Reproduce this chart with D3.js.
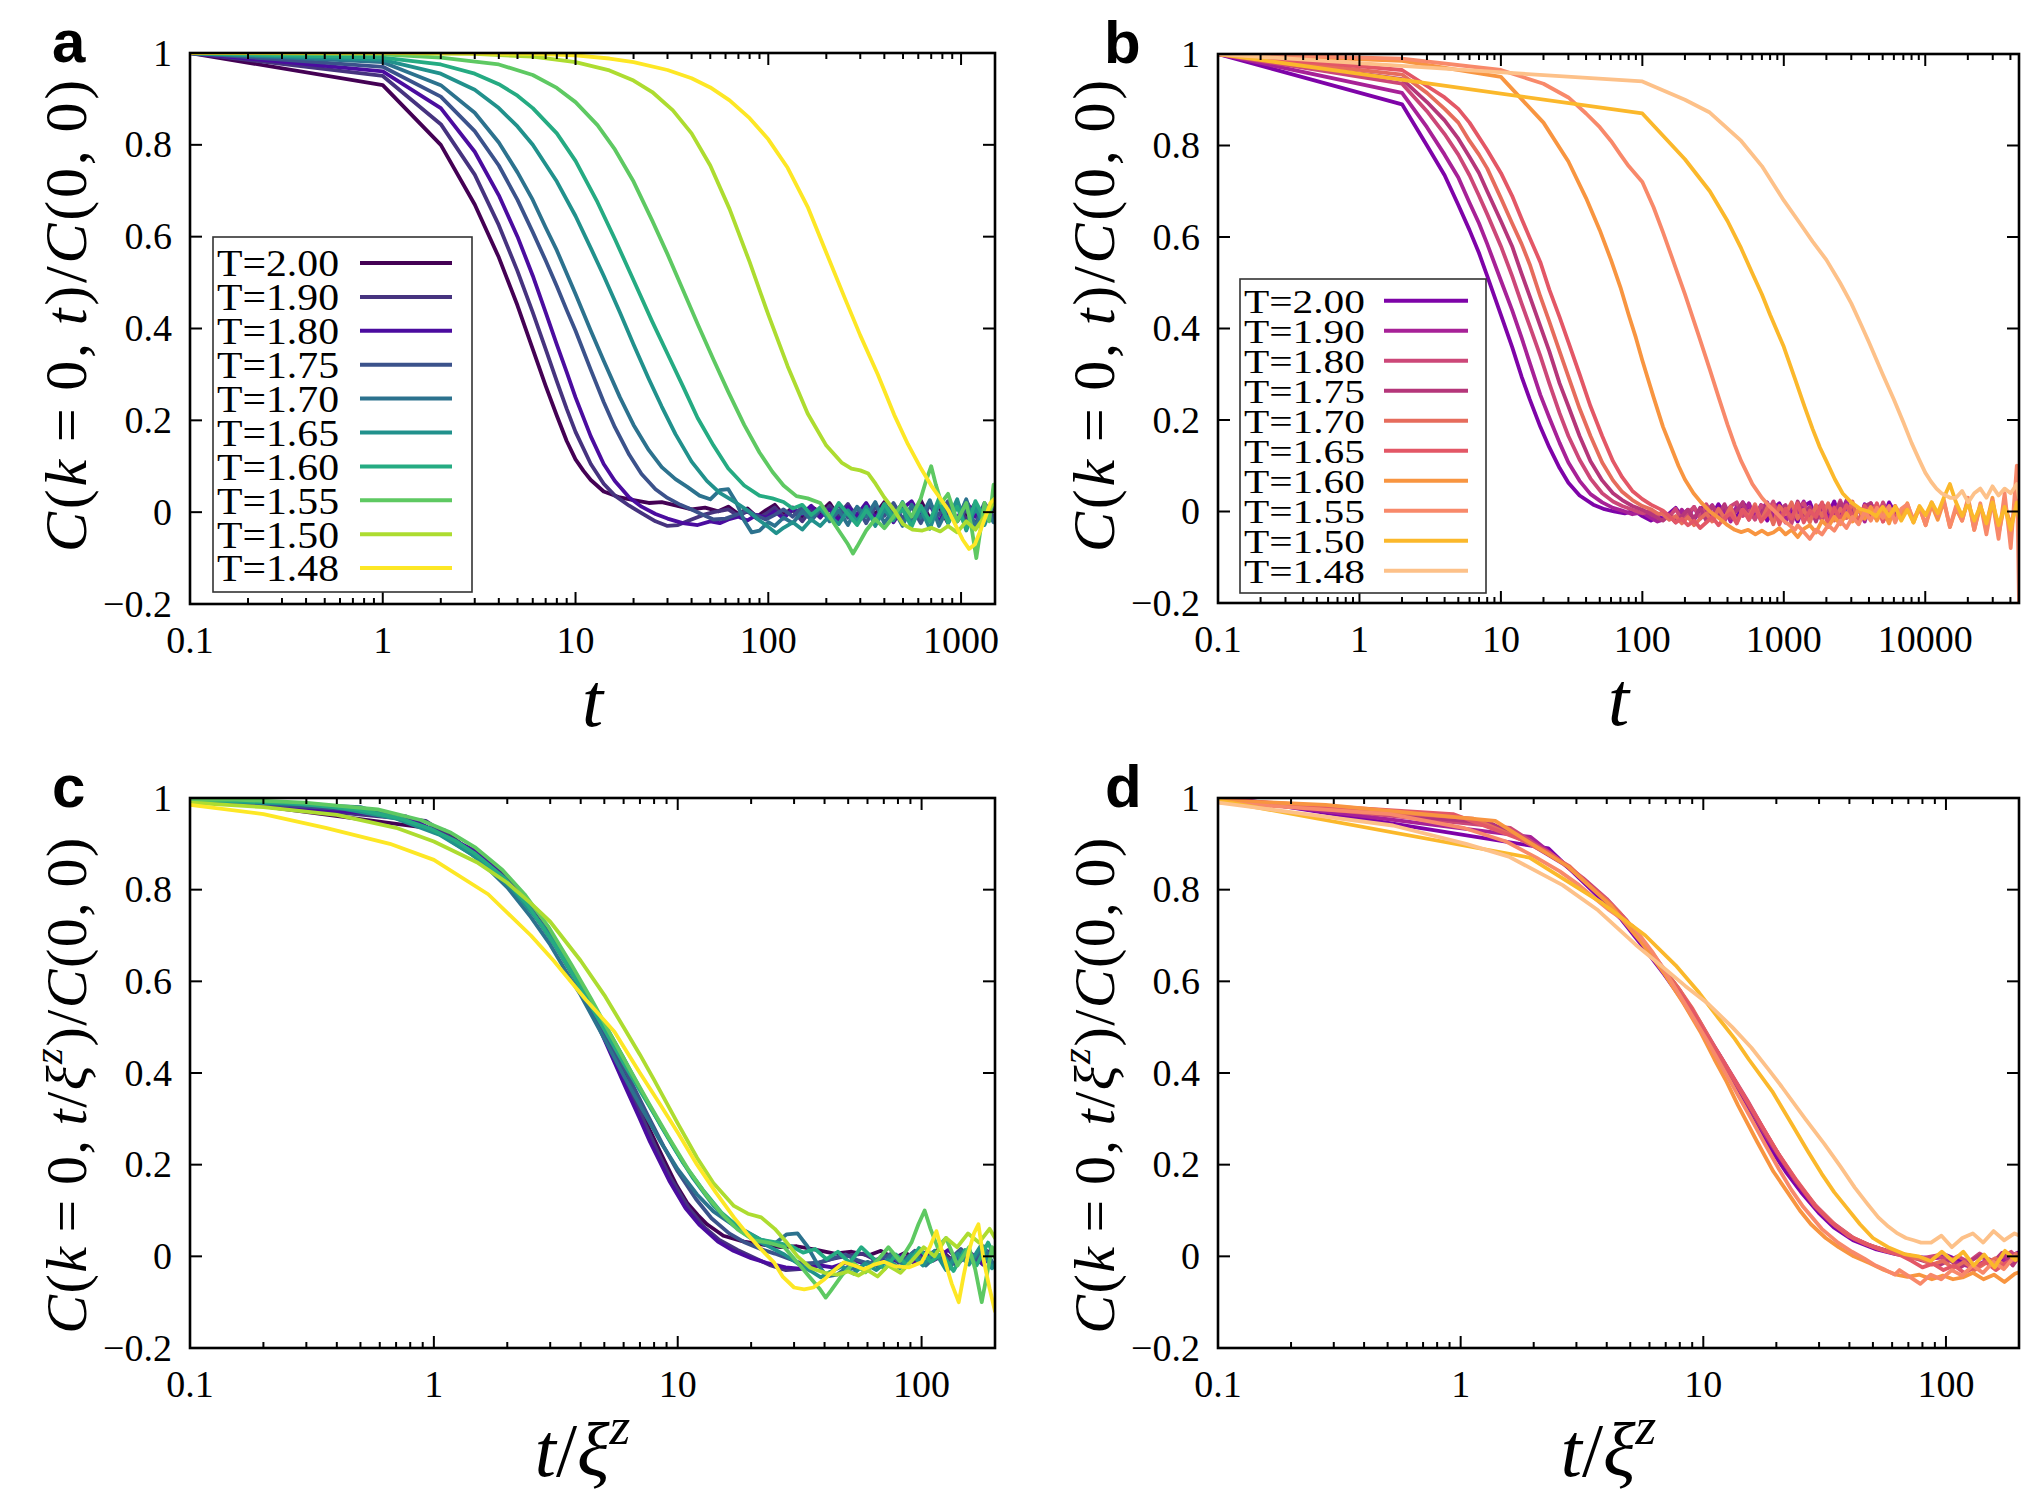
<!DOCTYPE html>
<html><head><meta charset="utf-8">
<script src="https://cdn.jsdelivr.net/npm/d3@7/dist/d3.min.js"></script>
<style>
html,body{margin:0;padding:0;background:#fff;}
</style></head><body>
<svg id="chart" width="2043" height="1507" xmlns="http://www.w3.org/2000/svg"></svg>
<script>
// ---------------- DATA ----------------
const temps = ["2.00","1.90","1.80","1.75","1.70","1.65","1.60","1.55","1.50","1.48"];
const colorsA = ["#440154","#46337f","#4b0c9f","#3b528b","#2c728e","#21918c","#25ab82","#5ec962","#addc30","#fde725"];
const colorsB = ["#7e03a8","#a72197","#cc4778","#b5367a","#e66c5c","#e35766","#f89540","#f8896a","#fbb82b","#fdc189"];
const yTickValues = [-0.2,0,0.2,0.4,0.6,0.8,1];
const yTickLabels = ["\u22120.2","0","0.2","0.4","0.6","0.8","1"];
const xTicksA = [0.1,1,10,100,1000];
const xTickLabelsA = ["0.1","1","10","100","1000"];
const xTicksB = [0.1,1,10,100,1000,10000];
const xTickLabelsB = ["0.1","1","10","100","1000","10000"];
const xTicksCD = [0.1,1,10,100];
const xTickLabelsCD = ["0.1","1","10","100"];
// scale factors xi^z per temperature (panel c from a, panel d from b)
const xiA = [0.91,1.08,1.3,1.6,2.0,2.85,4.1,6.8,14.5,32];
const xiB = [0.87,1.03,1.25,1.5,1.77,2.15,7.2,19.5,52,190];
// value at the left edge (x = 0.1) of the rescaled panels
const startC = [1.0,1.0,0.999,0.998,0.997,0.996,0.996,0.995,0.99,0.985];
const startD = [1.0,1.0,0.999,0.998,0.998,0.997,0.995,0.995,0.995,0.99];

// panel a : C(k=0,t)/C(0,0) vs t
const tGridA = [55,62,70,78,87,97,108,120,134,150,167,186,208,232,259,289,322,359,400,446,497,554,618,689,768,856,955,1064,1187,1323,1475,1644];
const mainA = [
 [[0.1,1.0],[1,0.93],[2,0.80],[3,0.67],[4,0.555],[5,0.45],[6,0.355],[7,0.275],[8,0.21],[9,0.155],[10,0.115],[11,0.09],[12,0.07],[14,0.045],[17,0.032],[20,0.026],[24,0.02],[28,0.022],[33,0.015],[40,0.006],[47,0.01]],
 [[0.1,1.0],[1,0.95],[2,0.845],[3,0.735],[4,0.625],[5,0.525],[6,0.435],[7,0.355],[8,0.285],[9,0.225],[10,0.175],[12,0.105],[14,0.062],[16,0.036],[19,0.014],[22,-0.002],[26,-0.02],[30,-0.03],[34,-0.028],[40,-0.016],[46,-0.006],[52,0.0]],
 [[0.1,1.0],[1,0.96],[2,0.88],[3,0.785],[4,0.69],[5,0.6],[6,0.515],[7,0.435],[8,0.365],[9,0.305],[10,0.25],[12,0.165],[14,0.105],[16,0.068],[19,0.032],[22,0.012],[26,-0.004],[30,-0.014],[36,-0.024],[43,-0.028],[50,-0.02],[56,-0.024]],
 [[0.1,1.0],[1,0.97],[2,0.905],[3,0.83],[4,0.755],[5,0.68],[6,0.61],[7,0.548],[8,0.492],[9,0.44],[10,0.395],[12,0.31],[14,0.24],[16,0.185],[19,0.125],[22,0.083],[26,0.05],[30,0.031],[35,0.016],[40,0.006],[46,-0.006],[52,-0.016],[60,-0.014]],
 [[0.1,1.0],[1,0.98],[2,0.93],[3,0.87],[4,0.805],[5,0.74],[6,0.68],[7,0.62],[8,0.57],[10,0.475],[12,0.395],[14,0.33],[17,0.25],[20,0.19],[24,0.135],[28,0.098],[33,0.072],[38,0.055],[44,0.036],[50,0.028],[56,0.048],[62,0.05],[68,0.022],[75,-0.018],[82,-0.044],[90,-0.04],[100,-0.022]],
 [[0.1,1.0],[1,0.985],[2,0.955],[3,0.92],[4,0.88],[5,0.84],[6,0.8],[8,0.72],[10,0.645],[12,0.575],[14,0.515],[17,0.435],[20,0.365],[24,0.29],[28,0.23],[33,0.17],[40,0.11],[48,0.068],[56,0.042],[66,0.024],[78,0.004],[90,-0.018],[100,-0.032],[110,-0.046],[120,-0.034],[134,-0.022]],
 [[0.1,1.0],[1,0.99],[2,0.975],[3,0.955],[4,0.932],[5,0.907],[6,0.88],[8,0.825],[10,0.765],[13,0.675],[16,0.595],[20,0.505],[25,0.415],[30,0.345],[36,0.275],[43,0.205],[52,0.145],[62,0.095],[75,0.058],[90,0.036],[105,0.03],[120,0.022],[134,0.008]],
 [[0.1,1.0],[1,0.997],[2,0.99],[4,0.975],[6,0.952],[8,0.924],[10,0.893],[13,0.843],[16,0.79],[20,0.72],[25,0.635],[30,0.562],[36,0.485],[43,0.41],[52,0.332],[62,0.262],[75,0.19],[90,0.13],[105,0.088],[120,0.058],[140,0.035],[160,0.03],[186,0.02],[208,-0.01],[232,-0.04],[259,-0.07],[275,-0.09],[289,-0.075],[322,-0.04],[359,-0.015],[400,-0.035],[446,-0.01],[497,0.02],[554,-0.01],[618,0.03],[660,0.07],[700,0.1],[740,0.06],[790,0.02],[856,0.04],[955,-0.02],[1064,0.02],[1130,-0.03],[1200,-0.1],[1260,-0.04],[1323,0.02],[1400,-0.02],[1475,0.06],[1644,0.01]],
 [[0.1,1.0],[1,1.0],[3,0.998],[6,0.992],[10,0.98],[15,0.962],[20,0.94],[25,0.915],[32,0.875],[40,0.825],[50,0.755],[63,0.66],[80,0.545],[100,0.43],[126,0.318],[160,0.215],[200,0.145],[240,0.108],[270,0.095],[300,0.091],[330,0.084],[360,0.062],[400,0.032],[450,0.004],[500,-0.026],[560,-0.038],[630,-0.04],[700,-0.034],[780,-0.042],[856,-0.03],[955,-0.044],[1064,-0.02],[1187,-0.038],[1323,-0.01],[1475,0.02],[1644,0.0]],
 [[0.1,1.0],[1,1.0],[3,0.999],[6,0.998],[10,0.995],[15,0.988],[20,0.98],[30,0.963],[40,0.945],[50,0.925],[63,0.897],[80,0.858],[100,0.812],[126,0.75],[160,0.665],[200,0.565],[250,0.465],[300,0.385],[370,0.3],[450,0.212],[530,0.148],[620,0.095],[700,0.058],[780,0.03],[860,0.004],[940,-0.03],[1020,-0.06],[1100,-0.08],[1180,-0.07],[1260,-0.04],[1340,-0.01],[1420,0.02],[1500,0.03],[1640,0.0]]
];
const tailA = [
 [0,[0.002,0.012,-0.004,0.008,-0.01,0.004,0.016,-0.006,0.01,-0.014,0.012,0.0,0.02,-0.01,0.012,-0.018,0.014,-0.004,0.022,-0.016,0.01,-0.012,0.026,-0.014,0.012,-0.024,0.016,-0.01,0.02,-0.02,0.01,0.0]],
 [1,[0.006,-0.008,0.002,-0.014,-0.004,0.01,-0.01,0.004,-0.02,0.006,-0.012,0.014,-0.006,0.018,-0.014,0.008,-0.02,0.01,-0.008,0.02,-0.018,0.012,-0.02,0.018,-0.006,0.022,-0.018,0.012,-0.024,0.016,-0.006]],
 [1,[-0.016,-0.01,-0.018,-0.006,-0.012,0.002,-0.014,0.008,-0.004,0.014,-0.01,0.006,-0.018,0.012,-0.006,0.02,-0.012,0.016,-0.022,0.008,0.024,-0.01,0.016,-0.02,0.01,-0.014,0.024,-0.01,0.014,-0.016,0.008]],
 [2,[-0.004,0.004,-0.008,-0.016,-0.006,0.006,-0.01,0.012,-0.018,0.004,-0.008,0.016,-0.012,0.01,-0.024,0.012,-0.008,0.02,-0.014,0.012,-0.024,0.018,-0.006,0.024,-0.02,0.006,-0.026,0.02,-0.01,0.01]],
 [6,[-0.03,-0.012,-0.024,0.002,-0.016,0.01,-0.02,0.004,-0.028,0.012,-0.01,0.022,-0.024,0.006,-0.03,0.016,-0.012,0.026,-0.03,0.01,-0.02,0.028,-0.034,0.012,-0.022,0.006]],
 [9,[-0.038,-0.016,-0.03,-0.008,-0.026,0.004,-0.02,0.012,-0.03,0.006,-0.018,0.022,-0.026,0.008,-0.036,0.018,-0.016,0.028,-0.04,0.01,-0.028,0.02,-0.012]],
 [9,[0.016,-0.006,0.01,-0.014,0.02,-0.004,-0.028,0.004,-0.02,0.018,-0.012,0.006,-0.032,0.014,-0.02,0.03,-0.024,0.012,-0.036,0.024,-0.014,0.03,-0.02]],
 null, null, null
];
// panel c curves that do not follow a pure rescaling of panel a (T=1.50, T=1.48)
const cT150 = [[0.1,0.99],[0.2,0.98],[0.4,0.963],[0.7,0.935],[1,0.905],[1.5,0.86],[2,0.815],[2.5,0.77],[3,0.73],[4,0.645],[5,0.57],[6,0.5],[7,0.44],[8,0.385],[10,0.29],[12,0.215],[14,0.16],[17,0.11],[19.4,0.093],[22,0.085],[25,0.06],[28,0.03],[31,0.0],[35,-0.025],[40,-0.036],[45,-0.04],[50,-0.033],[55,-0.042],[60,-0.03],[66,-0.044],[73,-0.02],[82,-0.036],[91,-0.01],[102,0.02],[113,0.0],[126,0.04],[140,0.02],[155,0.05],[172,0.03],[190,0.06],[200,0.04]];
const cT148 = [[0.1,0.985],[0.2,0.965],[0.36,0.935],[0.66,0.9],[1,0.865],[1.67,0.79],[2.5,0.7],[3.1,0.645],[4.2,0.56],[5.5,0.49],[7,0.4],[8.5,0.33],[10,0.27],[12,0.2],[14.3,0.14],[17,0.085],[19.2,0.05],[22,0.015],[24.8,-0.013],[27,-0.045],[30,-0.068],[33,-0.072],[36,-0.068],[40,-0.05],[43,-0.034],[48,-0.013],[53,-0.02],[58,-0.028],[64,-0.018],[70,-0.012],[78,-0.022],[89,-0.024],[100,-0.013],[108,0.02],[115,0.055],[120,0.02],[125,-0.013],[133,-0.06],[142,-0.1],[149,-0.04],[156,0.01],[164,0.05],[171,0.07],[180,-0.01],[190,-0.07],[200,-0.12]];

// panel b
const tGridB = [140,155,172,190,210,232,256,283,312,345,381,421,465,513,567,626,691,763,843,931,1028,1135,1254,1384,1529,1688,1864,2059,2273,2510,2772,3061,3380,3733,4122,4552,5027,5551,6130,6770,7470,8250,9110,10060,11100,12260,13530,14940,16500,18210,20110,22200,24510,27060,29870,32980,36410,40200,44380,46000];
const mainB = [
 [[0.1,1.0],[2,0.89],[3,0.80],[4,0.735],[5,0.67],[6,0.615],[7,0.565],[8,0.515],[10,0.43],[12,0.36],[14,0.295],[16,0.245],[19,0.185],[22,0.14],[26,0.095],[30,0.063],[36,0.035],[45,0.015],[54,0.005],[63,0.0],[75,-0.004],[88,0.002],[100,-0.01],[115,-0.02],[128,-0.012]],
 [[0.1,1.0],[2,0.915],[3,0.84],[4,0.78],[5,0.73],[6,0.675],[7,0.63],[8,0.585],[10,0.505],[12,0.44],[14,0.38],[16,0.325],[19,0.255],[22,0.205],[26,0.15],[30,0.107],[36,0.067],[43,0.038],[52,0.02],[62,0.008],[72,0.002],[85,-0.006],[100,-0.002],[115,-0.014],[128,-0.022]],
 [[0.1,1.0],[2,0.935],[3,0.875],[4,0.825],[5,0.78],[6,0.735],[7,0.69],[8,0.65],[10,0.58],[12,0.515],[14,0.455],[16,0.405],[19,0.34],[22,0.28],[26,0.215],[30,0.165],[36,0.113],[43,0.072],[52,0.04],[62,0.022],[72,0.012],[85,0.004],[100,-0.004],[115,0.002],[128,-0.01]],
 [[0.1,1.0],[2,0.945],[3,0.895],[4,0.855],[5,0.815],[6,0.775],[7,0.74],[8,0.7],[10,0.635],[12,0.58],[14,0.52],[16,0.47],[19,0.405],[22,0.35],[26,0.28],[30,0.23],[36,0.165],[43,0.11],[52,0.068],[62,0.04],[72,0.025],[85,0.012],[100,0.004],[115,-0.006],[128,-0.014]],
 [[0.1,1.0],[2,0.955],[3,0.915],[4,0.88],[5,0.85],[6,0.81],[7,0.78],[8,0.75],[10,0.685],[12,0.63],[14,0.585],[16,0.54],[19,0.47],[22,0.415],[26,0.35],[30,0.295],[36,0.225],[43,0.165],[52,0.107],[62,0.068],[72,0.043],[85,0.025],[100,0.012],[115,0.005],[128,-0.004]],
 [[0.1,1.0],[2,0.965],[3,0.93],[4,0.905],[5,0.88],[6,0.85],[8,0.79],[10,0.74],[12,0.69],[14,0.64],[16,0.598],[19,0.545],[22,0.485],[26,0.425],[30,0.37],[36,0.3],[43,0.23],[52,0.165],[62,0.11],[72,0.075],[85,0.045],[100,0.027],[115,0.015],[128,0.008]],
 [[0.1,1.0],[2,0.985],[10,0.95],[20,0.85],[30,0.765],[40,0.685],[50,0.615],[60,0.55],[70,0.49],[80,0.43],[90,0.38],[100,0.33],[120,0.25],[140,0.185],[160,0.14],[180,0.1],[200,0.07],[230,0.04],[260,0.02],[300,0.0],[350,-0.015],[400,-0.03],[450,-0.04],[500,-0.045],[560,-0.04],[630,-0.05],[700,-0.042],[770,-0.05]],
 [[0.1,1.0],[2,0.99],[10,0.965],[20,0.935],[30,0.905],[40,0.87],[50,0.84],[60,0.81],[70,0.78],[80,0.755],[100,0.72],[120,0.665],[140,0.61],[160,0.56],[180,0.515],[200,0.475],[250,0.385],[300,0.31],[350,0.245],[400,0.19],[450,0.145],[500,0.11],[600,0.06],[700,0.03],[800,0.01],[900,-0.005],[1000,-0.02],[1100,-0.03],[1200,-0.04]],
 [[0.1,1.0],[100,0.87],[200,0.77],[300,0.70],[400,0.635],[500,0.575],[600,0.52],[700,0.475],[800,0.43],[1000,0.36],[1200,0.29],[1400,0.23],[1600,0.18],[1800,0.14],[2000,0.11],[2300,0.07],[2600,0.04],[3000,0.02],[3500,0.005],[4000,0.0],[4500,-0.01],[5000,0.01]],
 [[0.1,1.0],[100,0.94],[200,0.9],[300,0.872],[500,0.81],[700,0.755],[1000,0.68],[1300,0.63],[1600,0.59],[2000,0.55],[2500,0.5],[3000,0.455],[3500,0.41],[4000,0.37],[5000,0.3],[6000,0.245],[7000,0.195],[8000,0.15],[9000,0.115],[10000,0.085],[11000,0.065],[12000,0.05],[13000,0.04],[14000,0.035],[15000,0.03]]
];
const tailB = [
 [0,[-0.015,-0.004,0.008,-0.01,0.004,-0.018,0.006,0.012,-0.008,0.016,-0.004,0.01,-0.016,0.02,0.002,-0.012,0.014,-0.02,0.006,0.018,-0.01,0.004,-0.022,0.012,0.02,-0.014,0.008,-0.006,0.022,-0.018,0.01,0.002,-0.024,0.016,-0.008,0.012,-0.016,0.02,-0.004]],
 [0,[-0.018,-0.006,-0.02,0.004,-0.012,0.01,-0.016,0.0,0.014,-0.01,0.006,-0.022,0.012,-0.004,0.018,-0.016,0.004,0.02,-0.012,0.008,-0.024,0.014,-0.002,0.022,-0.018,0.006,0.016,-0.02,0.01,-0.006,0.024,-0.014,0.004,-0.022,0.018,-0.01,0.012,-0.018,0.006]],
 [0,[0.0,-0.012,0.006,-0.02,-0.004,0.01,-0.014,0.016,-0.006,0.004,-0.022,0.012,0.02,-0.01,0.002,-0.018,0.014,-0.004,0.022,-0.016,0.008,-0.026,0.01,0.018,-0.012,0.004,-0.02,0.016,-0.008,0.024,-0.014,0.006,-0.022,0.014,0.002,-0.018,0.02,-0.01,0.008]],
 [0,[-0.02,-0.008,-0.024,-0.01,0.004,-0.016,0.008,-0.02,0.012,-0.006,0.016,-0.014,0.002,0.02,-0.018,0.008,-0.01,0.018,-0.024,0.004,0.014,-0.016,0.022,-0.008,0.01,-0.022,0.016,0.004,-0.018,0.02,-0.01,0.008,-0.026,0.012,0.018,-0.014,0.004,-0.02,0.012]],
 [0,[-0.006,-0.018,-0.01,-0.026,-0.012,-0.03,-0.016,-0.004,-0.022,0.006,-0.014,0.01,-0.024,0.004,-0.012,0.016,-0.02,0.008,-0.028,0.012,-0.006,0.02,-0.016,0.004,-0.024,0.014,-0.01,0.018,-0.02,0.006,-0.014,0.022,-0.026,0.01,-0.004,0.016,-0.022,0.008,-0.012]],
 [0,[0.002,-0.01,-0.024,-0.016,-0.03,-0.02,-0.036,-0.024,-0.012,-0.03,-0.014,-0.004,-0.026,0.004,-0.018,0.01,-0.022,-0.006,0.014,-0.028,0.006,-0.016,0.018,-0.024,0.002,-0.012,0.02,-0.03,0.008,-0.018,0.014,-0.008,-0.026,0.012,-0.014,0.018,-0.022,0.006,-0.01]],
 [18,[-0.046,-0.036,-0.05,-0.04,-0.056,-0.038,-0.03,-0.046,-0.02,-0.034,-0.012,-0.028,-0.004,-0.022,0.006,-0.016,0.01,-0.02,0.004,-0.026,0.012,-0.01,0.018,-0.024,0.008,-0.03,0.014,-0.018,0.022,-0.034,0.006,-0.02,0.026,-0.04,0.012,-0.028,0.03,-0.05,0.016,-0.03,0.02,-0.01]],
 [22,[-0.03,-0.045,-0.06,-0.04,-0.05,-0.03,-0.042,-0.02,-0.036,-0.012,-0.028,0.0,-0.02,0.008,-0.014,0.012,-0.024,0.006,0.016,-0.018,0.01,-0.03,0.02,-0.01,0.026,-0.034,0.012,-0.02,0.03,-0.04,0.018,-0.05,0.024,-0.06,0.04,-0.08,0.1,-0.2]],
 [37,[-0.01,0.01,-0.02,0.004,-0.024,0.012,-0.008,0.02,-0.004,0.03,0.06,0.02,-0.01,0.018,-0.02,0.012,-0.026,0.02,-0.03,0.01,-0.04,0.02,-0.01]],
 [48,[0.03,0.045,0.02,0.04,0.05,0.03,0.055,0.035,0.05,0.04,0.06,0.03]]
];

// ---------------- BUILD SERIES ----------------
function build(main, tail, grid){
  return main.map((m,i)=>{
    const tl = tail[i];
    const extra = tl ? tl[1].map((v,k)=>[grid[tl[0]+k], v]).filter(d=>d[0]!==undefined) : [];
    return m.concat(extra);
  });
}
function rescale(s, xi, start){
  const pts = s.map(([t,c])=>[t/xi, c]).filter(d=>d[0]>0.1);
  return [[0.1,start]].concat(pts);
}
const curvesA = build(mainA, tailA, tGridA);
const curvesB = build(mainB, tailB, tGridB);
const curvesC = curvesA.map((s,i)=> i===8 ? cT150 : i===9 ? cT148 : rescale(s, xiA[i], startC[i]));
const curvesD = curvesB.map((s,i)=> rescale(s, xiB[i], startD[i]));

// ---------------- DRAW ----------------
const SERIF = "'Liberation Serif','Times New Roman',serif";
const SANS = "'Liberation Sans',Arial,Helvetica,sans-serif";
const svg = d3.select("#chart");
svg.append("rect").attr("width",2043).attr("height",1507).attr("fill","#fff");

const panels = [
 {id:"a", lx:52, x0:190, x1:995, y0:53, y1:604, xmax:1500, ticks:xTicksA, labels:xTickLabelsA, curves:curvesA, colors:colorsA, scaled:false, ylOff:-14, xlOff:0,
  legend:{x:213,y:237,w:259,h:355,ty:263,dy:33.9,tx:217,lx0:360,lx1:452,fs:37,tl:122}},
 {id:"b", lx:1104, x0:1218, x1:2019, y0:54, y1:603, xmax:46000, ticks:xTicksB, labels:xTickLabelsB, curves:curvesB, colors:colorsB, scaled:false, ylOff:-14, xlOff:0,
  legend:{x:1240,y:279,w:246,h:314,ty:300.7,dy:30,tx:1244,lx0:1384,lx1:1468,fs:34,tl:121}},
 {id:"c", lx:52, x0:190, x1:995, y0:798, y1:1348, xmax:200, ticks:xTicksCD, labels:xTickLabelsCD, curves:curvesC, colors:colorsA, scaled:true, ylOff:12, xlOff:-10},
 {id:"d", lx:1105, x0:1218, x1:2019, y0:798, y1:1348, xmax:200, ticks:xTicksCD, labels:xTickLabelsCD, curves:curvesD, colors:colorsB, scaled:true, ylOff:12, xlOff:-10}
];

function minorTicks(xmax){
  const out=[];
  for(let e=-1;e<=5;e++){
    for(let k=2;k<=9;k++){
      const v=k*Math.pow(10,e);
      if(v>0.1 && v<xmax) out.push(v);
    }
  }
  return out;
}

function mathText(g, parts, fs){
  parts.forEach(p=>{
    const ts = g.append("tspan").text(p.t);
    if(p.i) ts.style("font-style","italic");
    if(p.sup){ ts.style("font-size", (fs*0.7)+"px").attr("dy", -fs*0.42); }
    if(p.back){ ts.attr("dy", fs*0.42); }
  });
}

panels.forEach(p=>{
  const x = d3.scaleLog().domain([0.1,p.xmax]).range([p.x0,p.x1]);
  const y = d3.scaleLinear().domain([-0.2,1]).range([p.y1,p.y0]);
  const g = svg.append("g").attr("id","panel-"+p.id);

  const clipId = "clip-"+p.id;
  svg.append("clipPath").attr("id",clipId).append("rect")
    .attr("x",p.x0).attr("y",p.y0).attr("width",p.x1-p.x0).attr("height",p.y1-p.y0);

  // curves
  const line = d3.line().x(d=>x(d[0])).y(d=>y(d[1]));
  const lg = g.append("g").attr("clip-path","url(#"+clipId+")");
  p.curves.forEach((s,i)=>{
    lg.append("path").attr("d",line(s)).attr("fill","none")
      .attr("stroke",p.colors[i]).attr("stroke-width",3.8)
      .attr("stroke-linejoin","round").attr("stroke-linecap","round");
  });

  // ticks
  const tg = g.append("g").attr("stroke","#000").attr("stroke-width",2);
  p.ticks.forEach(v=>{
    tg.append("line").attr("x1",x(v)).attr("x2",x(v)).attr("y1",p.y1).attr("y2",p.y1-12);
    tg.append("line").attr("x1",x(v)).attr("x2",x(v)).attr("y1",p.y0).attr("y2",p.y0+12);
  });
  minorTicks(p.xmax).forEach(v=>{
    tg.append("line").attr("x1",x(v)).attr("x2",x(v)).attr("y1",p.y1).attr("y2",p.y1-6);
    tg.append("line").attr("x1",x(v)).attr("x2",x(v)).attr("y1",p.y0).attr("y2",p.y0+6);
  });
  yTickValues.forEach(v=>{
    tg.append("line").attr("x1",p.x0).attr("x2",p.x0+12).attr("y1",y(v)).attr("y2",y(v));
    tg.append("line").attr("x1",p.x1).attr("x2",p.x1-12).attr("y1",y(v)).attr("y2",y(v));
  });

  // frame
  g.append("rect").attr("x",p.x0).attr("y",p.y0).attr("width",p.x1-p.x0).attr("height",p.y1-p.y0)
    .attr("fill","none").attr("stroke","#000").attr("stroke-width",2.6);

  // tick labels
  yTickValues.forEach((v,i)=>{
    g.append("text").attr("x",p.x0-18).attr("y",y(v)).attr("dy","0.33em")
      .attr("text-anchor","end").style("font-family",SERIF).style("font-size","38px").text(yTickLabels[i]);
  });
  p.ticks.forEach((v,i)=>{
    g.append("text").attr("x",x(v)).attr("y",p.y1+49)
      .attr("text-anchor","middle").style("font-family",SERIF).style("font-size","38px").text(p.labels[i]);
  });

  // panel letter
  g.append("text").attr("x",p.lx).attr("y",p.y0+9)
    .style("font-family",SANS).style("font-weight","bold")
    .style("font-size","60px").text(p.id);

  // y label
  const fsY = p.scaled ? 58 : 60;
  const yl = g.append("text").attr("transform",`translate(${p.x0-104},${(p.y0+p.y1)/2 + p.ylOff}) rotate(-90)`)
    .attr("text-anchor","middle").style("font-family",SERIF).style("font-size",fsY+"px")
    .style("letter-spacing", p.scaled ? "1.5px" : "2.8px");
  if(!p.scaled){
    mathText(yl,[{t:"C",i:true},{t:"("},{t:"k",i:true},{t:"\u2009=\u20090,\u2009"},{t:"t",i:true},{t:")/"},{t:"C",i:true},{t:"(0,\u20090)"}],fsY);
  } else {
    mathText(yl,[{t:"C",i:true},{t:"("},{t:"k",i:true},{t:"\u2009=\u20090,\u2009"},{t:"t",i:true},{t:"/"},{t:"\u03BE",i:true},{t:"z",i:true,sup:true},{t:")/",back:true},{t:"C",i:true},{t:"(0,\u20090)"}],fsY);
  }

  // x label
  const fsX = 76;
  const xl = g.append("text").attr("x",(p.x0+p.x1)/2 + p.xlOff).attr("y",p.scaled? p.y1+128 : p.y1+122)
    .attr("text-anchor","middle").style("font-family",SERIF).style("font-size",fsX+"px");
  if(!p.scaled){
    mathText(xl,[{t:"t",i:true}],fsX);
  } else {
    mathText(xl,[{t:"t",i:true},{t:"/"},{t:"\u03BE",i:true},{t:"z",i:true,sup:true}],fsX);
  }

  // legend
  if(p.legend){
    const L = p.legend;
    g.append("rect").attr("x",L.x).attr("y",L.y).attr("width",L.w).attr("height",L.h)
      .attr("fill","#fff").attr("stroke","#333").attr("stroke-width",1.6);
    temps.forEach((t,i)=>{
      const yy = L.ty + i*L.dy;
      g.append("text").attr("x",L.tx).attr("y",yy).attr("dy","0.36em")
        .attr("textLength",L.tl).attr("lengthAdjust","spacingAndGlyphs")
        .style("font-family",SERIF).style("font-size",L.fs+"px").text("T="+t);
      g.append("line").attr("x1",L.lx0).attr("x2",L.lx1).attr("y1",yy).attr("y2",yy)
        .attr("stroke",p.colors[i]).attr("stroke-width",4);
    });
  }
});
</script>
</body></html>
